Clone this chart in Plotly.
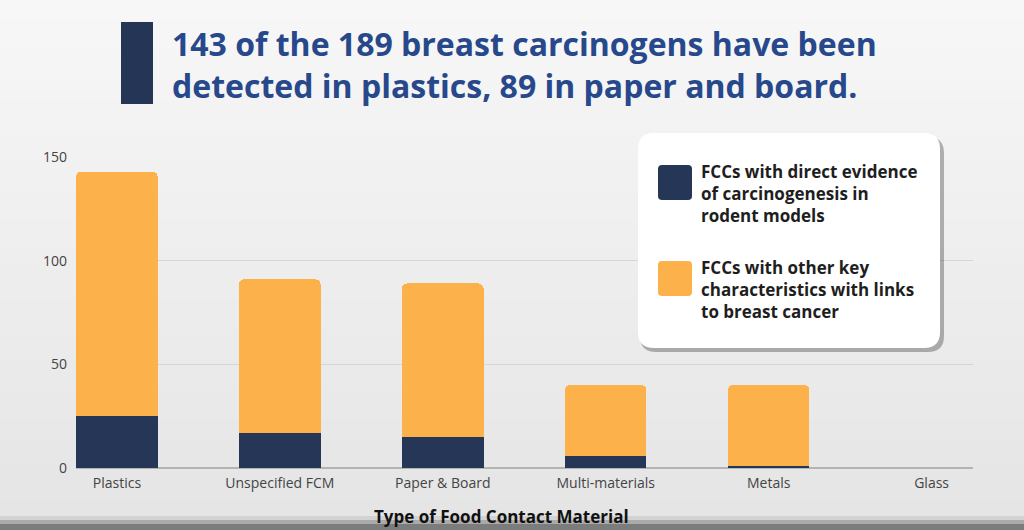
import plotly.graph_objects as go

# dados
materiais = ["Plastics", "Unspecified FCM", "Paper & Board", "Multi-materials", "Metals", "Glass"]
evidencia_direta = [25, 17, 15, 6, 1, 0]
outras_caracteristicas = [118, 74, 74, 34, 39, 0]
nomes_series = [
    "FCCs with direct evidence<br>of carcinogenesis in<br>rodent models",
    "FCCs with other key<br>characteristics with links<br>to breast cancer",
]
cores = ["#253656", "#FCB14A"]
y_ticks = [0, 50, 100, 150]

titulo = "143 of the 189 breast carcinogens have been<br>detected in plastics, 89 in paper and board."
titulo_eixo_x = "Type of Food Contact Material"

W, H = 1024, 530
M_L, M_R, M_T, M_B = 76, 51, 157, 62


#
#   conversão de pixels para coordenadas "paper"
#
def px_x(px):
    return (px - M_L) / (W - M_L - M_R)

def px_y(py):
    return (H - M_B - py) / (H - M_T - M_B)

def retangulo_arredondado(x0, y0, x1, y1, r):
    # caminho svg com cantos arredondados (em pixels -> paper)
    pts = [
        ("M", x0 + r, y0), ("L", x1 - r, y0), ("Q", x1, y0, x1, y0 + r),
        ("L", x1, y1 - r), ("Q", x1, y1, x1 - r, y1), ("L", x0 + r, y1),
        ("Q", x0, y1, x0, y1 - r), ("L", x0, y0 + r), ("Q", x0, y0, x0 + r, y0),
    ]
    partes = []
    for p in pts:
        cmd, coords = p[0], p[1:]
        xy = []
        for i in range(0, len(coords), 2):
            xy.append(f"{px_x(coords[i]):.5f},{px_y(coords[i + 1]):.5f}")
        partes.append(cmd + " " + " ".join(xy))
    return " ".join(partes) + " Z"


fig = go.Figure()

for nome, valores, cor in zip(nomes_series, [evidencia_direta, outras_caracteristicas], cores):
    fig.add_trace(go.Bar(
        x=materiais,
        y=valores,
        name=nome,
        marker=dict(color=cor, line=dict(width=0)),
        width=0.5,
    ))

shapes = []
# fundo em degradê suave (faixas finas de 10px, de 247 até 229 de cinza)
for i in range(52):
    y0 = i * 10
    nivel = round(247 - 18 * i / 51)
    shapes.append(dict(type="rect", xref="paper", yref="paper", layer="below",
                       x0=px_x(0), x1=px_x(W), y0=px_y(y0 + 10), y1=px_y(y0),
                       fillcolor=f"rgb({nivel},{nivel},{nivel})", line=dict(width=0)))
# sombra escura no rodapé
for y0, y1, c in [(516, 520, "#d2d2d2"), (520, 524, "#aaaaaa"), (524, 530, "#7c7c7c")]:
    shapes.append(dict(type="rect", xref="paper", yref="paper", layer="below",
                       x0=px_x(0), x1=px_x(W), y0=px_y(y1), y1=px_y(y0),
                       fillcolor=c, line=dict(width=0)))
# barra azul ao lado do título
shapes.append(dict(type="rect", xref="paper", yref="paper",
                   x0=px_x(121), x1=px_x(153), y0=px_y(104), y1=px_y(22),
                   fillcolor="#243556", line=dict(width=0)))

# caixa da legenda: sombra + caixa branca
shapes.append(dict(type="path", xref="paper", yref="paper",
                   path=retangulo_arredondado(640, 137, 944, 352, 16),
                   fillcolor="rgba(0,0,0,0.28)", line=dict(width=0)))
shapes.append(dict(type="path", xref="paper", yref="paper",
                   path=retangulo_arredondado(638, 133, 940, 348, 16),
                   fillcolor="white", line=dict(width=0)))

anotacoes = []
legenda_y = [165, 261]
for nome, cor, y0 in zip(nomes_series, cores, legenda_y):
    shapes.append(dict(type="path", xref="paper", yref="paper",
                       path=retangulo_arredondado(658, y0, 692, y0 + 35, 4),
                       fillcolor=cor, line=dict(width=0)))
    anotacoes.append(dict(
        text=nome, xref="paper", yref="paper",
        x=px_x(699), y=px_y(y0 - 7), xanchor="left", yanchor="top",
        align="left", showarrow=False,
        font=dict(family="Open Sans", size=17, color="#1e1e1e", weight="bold"),
    ))

anotacoes.append(dict(
    text=titulo, xref="paper", yref="paper",
    x=px_x(170), y=px_y(64), xanchor="left", yanchor="middle",
    align="left", showarrow=False,
    font=dict(family="Open Sans", size=32, color="#27498C", weight="bold"),
))

# título do eixo x (um pouco à esquerda do centro da área do gráfico)
anotacoes.append(dict(
    text=titulo_eixo_x, xref="paper", yref="paper",
    x=px_x(501), y=px_y(516), xanchor="center", yanchor="middle",
    showarrow=False,
    font=dict(family="Open Sans", size=17, color="#111111", weight="bold"),
))

fig.update_layout(
    width=W, height=H,
    margin=dict(l=M_L, r=M_R, t=M_T, b=M_B, autoexpand=False),
    paper_bgcolor="#ececec",
    plot_bgcolor="rgba(0,0,0,0)",
    barmode="stack",
    barcornerradius=5,
    showlegend=False,
    shapes=shapes,
    annotations=anotacoes,
    font=dict(family="Open Sans", color="#444444"),
    xaxis=dict(
        range=[-0.251, 5.254],
        showgrid=False,
        tickfont=dict(size=14, color="#444444"),
        ticklabelstandoff=5,
        showline=False,
        ticks="",
    ),
    yaxis=dict(
        range=[0, 150],
        tickvals=y_ticks,
        gridcolor="#d6d6d6",
        gridwidth=1,
        zeroline=True,
        zerolinecolor="#b4b4b4",
        zerolinewidth=1.5,
        tickfont=dict(size=14, color="#444444"),
        ticklabelstandoff=8,
    ),
)

# tira a margem do body para a figura ocupar a janela toda
fig.write_html("out.html", config={"displayModeBar": False},
               post_script="document.body.style.margin='0';")
